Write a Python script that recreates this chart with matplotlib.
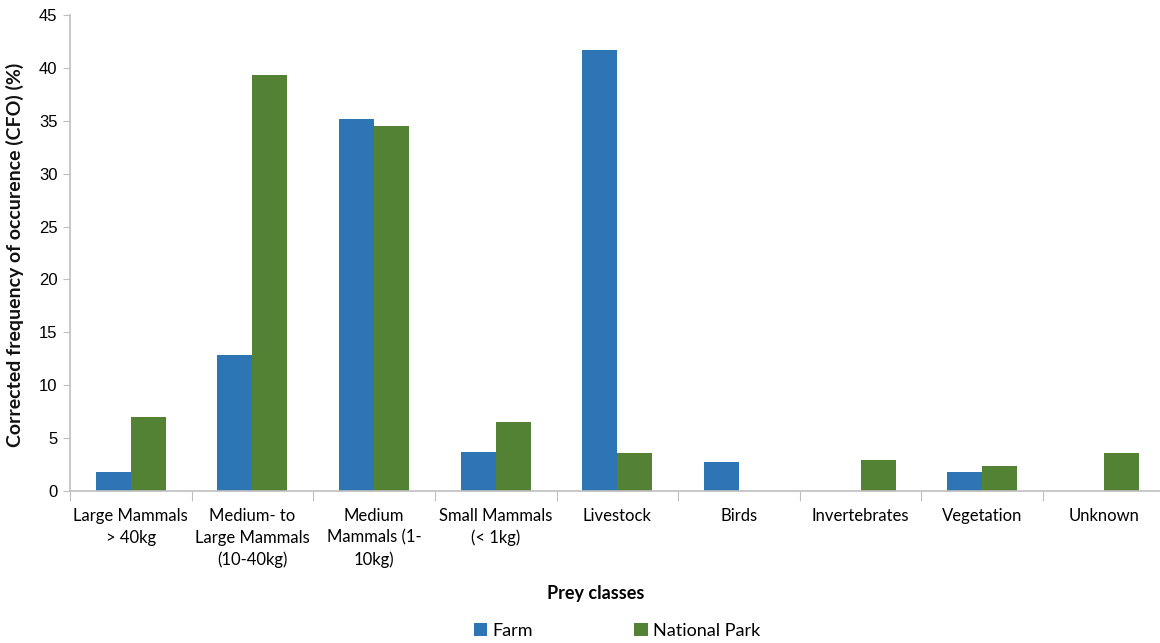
import matplotlib
matplotlib.use("Agg")
import matplotlib.pyplot as plt
import numpy as np

categories = ["Large Mammals\n> 40kg", "Medium- to\nLarge Mammals\n(10-40kg)", "Medium\nMammals (1-\n10kg)",
              "Small Mammals\n(< 1kg)", "Livestock", "Birds", "Invertebrates", "Vegetation", "Unknown"]
farm = [1.8, 12.9, 35.2, 3.7, 41.7, 2.75, 0, 1.8, 0]
national_park = [7.0, 39.3, 34.5, 6.5, 3.6, 0, 2.9, 2.35, 3.55]
series_names = ["Farm", "National Park"]
colors = ["#2E75B6", "#548235"]

fig = plt.figure(figsize=(11.6, 6.43), dpi=100)
ax = fig.add_axes([70/1160, 152/643, 1 - 70/1160 + 0.004, (491-15)/643])

x = np.arange(len(categories))
w = 0.288
ax.bar(x - w/2, farm, w, color=colors[0], label=series_names[0])
ax.bar(x + w/2, national_park, w, color=colors[1], label=series_names[1])

ax.set_xlim(-0.5, len(categories) - 0.5)
ax.set_ylim(0, 45)
ax.set_yticks(np.arange(0, 46, 5))
ax.tick_params(axis='y', labelsize=12, length=5, color='#BFBFBF', pad=4)
for t in ax.get_yticklabels():
    t.set_fontfamily('Liberation Sans')

ax.set_xticks(np.arange(-0.5, len(categories), 1.0))
ax.set_xticklabels([])
ax.tick_params(axis='x', which='major', length=7, color='#BFBFBF')
ax.set_xticks(x, minor=True)
ax.set_xticklabels(categories, minor=True, fontsize=12, fontfamily='Lato', linespacing=1.45)
ax.tick_params(axis='x', which='minor', length=0, pad=12)

for s in ['top', 'right']:
    ax.spines[s].set_visible(False)
for s in ['left', 'bottom']:
    ax.spines[s].set_color('#BFBFBF')
    ax.spines[s].set_linewidth(1.2)

fig.text(0.0125, (643-255)/643, "Corrected frequency of occurence (CFO) (%)", rotation=90,
         ha='center', va='center', fontsize=14, fontfamily='Lato', fontweight='bold', color='#111111')
fig.text(596/1160, 1 - 593/643, "Prey classes", ha='center', va='center', fontsize=13,
         fontfamily='Lato', fontweight='bold')

leg = fig.legend(loc='center', bbox_to_anchor=(617/1160, 1 - 631/643), ncol=2, frameon=False,
                 prop={'family': 'Lato', 'size': 13}, handlelength=0.75, handleheight=0.75,
                 handletextpad=0.3, columnspacing=5.6)

fig.savefig("out.png", dpi=100)
